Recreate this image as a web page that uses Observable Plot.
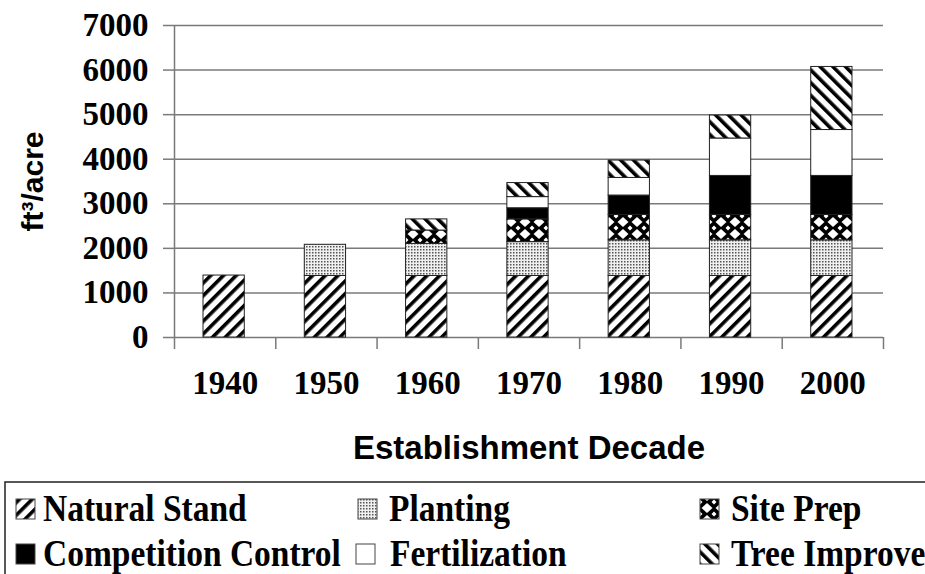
<!DOCTYPE html>
<html>
<head>
<meta charset="utf-8">
<script src="https://cdn.jsdelivr.net/npm/d3@7"></script>
<script src="https://cdn.jsdelivr.net/npm/@observablehq/plot@0.6"></script>
<style>
  html, body { margin: 0; padding: 0; background: #fff; }
  #wrap { position: relative; width: 925px; height: 574px; overflow: hidden; background: #fff; }
  #chart svg { display: block; }
  #legend { position: absolute; left: 0; top: 478px; }
</style>
</head>
<body>
<div id="wrap">
  <div id="chart"></div>
  <svg id="legend" width="925" height="96"></svg>
</div>
<script>
// ---- data ----
const decades = ["1940", "1950", "1960", "1970", "1980", "1990", "2000"];
const seriesNames = ["Natural Stand", "Planting", "Site Prep", "Competition Control", "Fertilization", "Tree Improve"];
const naturalStand       = [1390, 1380, 1380, 1380, 1380, 1380, 1380];
const planting           = [0, 700, 720, 760, 800, 800, 800];
const sitePrep           = [0, 0, 300, 510, 570, 570, 570];
const competitionControl = [0, 0, 0, 250, 435, 875, 875];
const fertilization      = [0, 0, 0, 250, 395, 840, 1030];
const treeImprove        = [0, 0, 250, 315, 390, 515, 1415];
const yTicks = [0, 1000, 2000, 3000, 4000, 5000, 6000, 7000];
const patternIds = ["pNatural", "pPlant", "pSite", "pComp", "pFert", "pTree"];

const seriesValues = [naturalStand, planting, sitePrep, competitionControl, fertilization, treeImprove];
const rows = [];
decades.forEach((dec, i) => {
  seriesNames.forEach((s, k) => {
    const v = seriesValues[k][i];
    if (v > 0) rows.push({i, decade: dec, series: s, value: v});
  });
});

const serif = "'Liberation Serif', 'Times New Roman', serif";
const sans = "'Liberation Sans', Arial, sans-serif";
const gray = "#7a7a7a";

const svg = Plot.plot({
  width: 925,
  height: 478,
  marginLeft: 174,
  marginRight: 42,
  marginTop: 25,
  marginBottom: 141,
  style: {fontFamily: serif, background: "white"},
  x: {domain: [0, decades.length], axis: null},
  y: {domain: [0, 7000], axis: null},
  color: {domain: seriesNames, range: patternIds.map(id => `url(#${id})`)},
  marks: [
    Plot.ruleY(yTicks, {stroke: gray, strokeWidth: 1.5}),
    Plot.ruleX([0], {stroke: gray, strokeWidth: 1.5}),
    Plot.axisY({ticks: yTicks, tickSize: 11, tickPadding: 15, stroke: gray, strokeWidth: 1.5, fill: "black",
      fontSize: 33, fontWeight: "bold", fontFamily: serif, label: null, tickFormat: d => String(d),
      ariaLabel: "ylabels"}),
    Plot.axisX({ticks: d3.range(0, decades.length + 1), tickSize: 12, stroke: gray, strokeWidth: 1.5,
      tickFormat: () => "", label: null}),
    Plot.axisX({ticks: decades.map((d, i) => i + 0.5), tickSize: 0, tickPadding: 33, fill: "black",
      fontSize: 33, fontWeight: "bold", fontFamily: serif, label: null,
      tickFormat: d => decades[Math.floor(d)], ariaLabel: "xlabels"}),
    Plot.rectY(rows, {x1: "i", x2: d => d.i + 1, y: "value", fill: "series",
      stroke: "#222", strokeWidth: 1, insetLeft: 29, insetRight: 31}),
    Plot.text(["Establishment Decade"], {text: d => d, frameAnchor: "bottom", dy: 111, lineAnchor: "middle",
      fontSize: 33, fontWeight: "bold", fontFamily: sans, fill: "black", ariaLabel: "xtitle"}),
    Plot.text(["ft³/acre"], {text: d => d, frameAnchor: "left", dx: -141, rotate: -90, lineAnchor: "middle",
      textAnchor: "middle", fontSize: 30, fontWeight: "bold", fontFamily: sans, fill: "black"})
  ]
});

svg.insertAdjacentHTML("afterbegin", `
<defs>
  <pattern id="pNatural" patternUnits="userSpaceOnUse" width="9" height="9" patternTransform="rotate(45)">
    <rect width="9" height="9" fill="#fff"/><rect width="3.6" height="9" fill="#000"/>
  </pattern>
  <pattern id="pTree" patternUnits="userSpaceOnUse" width="9" height="9" patternTransform="rotate(-45)">
    <rect width="9" height="9" fill="#fff"/><rect width="3.6" height="9" fill="#000"/>
  </pattern>
  <pattern id="pPlant" patternUnits="userSpaceOnUse" width="3" height="3">
    <rect width="3" height="3" fill="#f0f0f0"/><rect width="1.5" height="1.5" fill="#555"/>
  </pattern>
  <pattern id="pSite" patternUnits="userSpaceOnUse" width="14" height="12">
    <rect width="14" height="12" fill="#000"/>
    <path d="M7 1 L12.5 6 L7 11 L1.5 6Z" fill="#fff"/>
    <path d="M0 0 L2.5 0 L0 2.5Z M14 0 L11.5 0 L14 2.5Z M0 12 L2.5 12 L0 9.5Z M14 12 L11.5 12 L14 9.5Z" fill="#fff"/>
  </pattern>
  <pattern id="pComp" patternUnits="userSpaceOnUse" width="4" height="4">
    <rect width="4" height="4" fill="#000"/>
  </pattern>
  <pattern id="pFert" patternUnits="userSpaceOnUse" width="4" height="4">
    <rect width="4" height="4" fill="#fff"/>
  </pattern>
</defs>`);

// stretch the label text vertically a little, as in the reference
function stretch(selector, k) {
  svg.querySelectorAll(selector).forEach(t => {
    const tr = t.getAttribute("transform") || "";
    const x = t.getAttribute("x") || 0, y = t.getAttribute("y") || 0;
    t.removeAttribute("x"); t.removeAttribute("y");
    t.setAttribute("transform", `${tr} translate(${x},${y}) scale(1,${k})`);
  });
}
stretch('g[aria-label="ylabels"] text', 1.15);
stretch('g[aria-label="xlabels"] text', 1.15);
stretch('g[aria-label="xtitle"] text', 1.1);

document.getElementById("chart").appendChild(svg);

// ---- legend (below the chart) ----
const legendPos = [
  {sx: 16, tx: 43, row: 0},
  {sx: 358, tx: 389, row: 0},
  {sx: 700, tx: 731, row: 0},
  {sx: 16, tx: 43, row: 1},
  {sx: 356, tx: 390, row: 1},
  {sx: 700, tx: 731, row: 1}
];
const lg = d3.select("#legend");
lg.append("rect").attr("x", 5).attr("y", 4).attr("width", 1000).attr("height", 200)
  .attr("fill", "none").attr("stroke", "#222").attr("stroke-width", 1.5);
seriesNames.forEach((name, k) => {
  const p = legendPos[k];
  const base = p.row === 0 ? 43 : 88;
  lg.append("rect").attr("x", p.sx).attr("y", base - 22).attr("width", 19).attr("height", 20)
    .attr("fill", `url(#${patternIds[k]})`).attr("stroke", "#444").attr("stroke-width", 1);
  lg.append("text").attr("transform", `translate(${p.tx},${base}) scale(1,1.12)`)
    .attr("font-family", serif).attr("font-weight", "bold").attr("font-size", 33.5)
    .attr("fill", "black").text(name);
});
</script>
</body>
</html>
